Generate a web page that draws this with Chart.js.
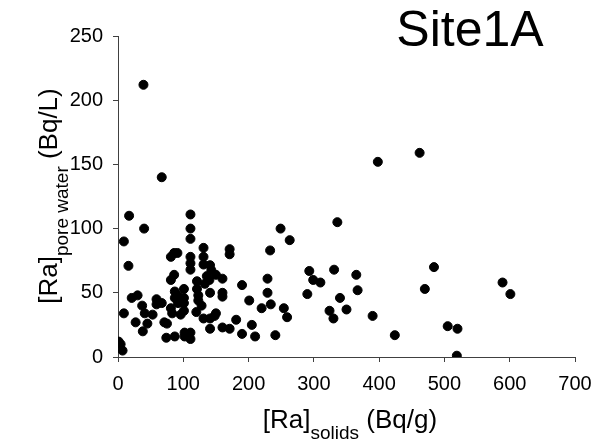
<!DOCTYPE html>
<html>
<head>
<meta charset="utf-8">
<script src="https://cdn.jsdelivr.net/npm/chart.js@4/dist/chart.umd.min.js"></script>
<style>
  html, body { margin: 0; padding: 0; background: #fff; }
  #wrap { width: 604px; height: 442px; }
</style>
</head>
<body>
<div id="wrap"><canvas id="chart" width="604" height="442"></canvas></div>
<script>
// Ra in solids (Bq/g) vs Ra in pore water (Bq/L), Site1A
const solids = [
    39, 67, 17, 40, 9, 16,
    111, 111, 111, 111, 111, 111,
    131, 131, 131, 141, 143, 171, 171,
    81, 86, 91, 81, 86, 136, 140, 150, 160,
    121, 121, 133, 190, 229, 233, 249, 263,
    293, 299, 310, 331, 336, 398, 462, 484, 470,
    365, 367, 290, 340, 350, 324, 330, 390, 424,
    505, 520, 519, 589, 601,
    229, 234, 254, 259, 241, 220, 201, 205, 210, 190, 181,
    171, 160, 160, 160, 150, 148, 141, 141, 141, 131,
    128, 123, 123, 120, 111, 111, 102, 102,
    101, 101, 101, 101, 96, 87, 87, 92, 87, 74,
    81, 83, 75, 71, 67, 59, 59, 53, 45, 41, 37, 38,
    30, 21, 27, 9, 1, 4, 7, 95, 91
];
const poreWater = [
    212, 140, 110, 100, 90, 71,
    111, 100, 92, 78, 73, 68,
    85, 78, 72, 71.5, 67.6, 84, 80,
    78, 81, 81, 60, 64, 63, 60, 64, 61,
    59, 53, 57, 56, 61, 83, 100, 91,
    67, 60, 58, 68, 105, 152, 159, 70, 53,
    64, 52, 49, 46, 37, 36, 30, 32, 17,
    24, 22, 1, 58, 49,
    50, 41, 38, 31, 17, 38, 44, 25, 16, 18, 29,
    22, 23, 50, 47, 34, 32, 30, 22, 50, 30,
    40, 48, 44, 35, 19, 14, 19, 16,
    53, 46, 42, 36, 33, 51, 46, 42, 16, 15,
    38, 34, 26, 27, 42, 45, 41, 33, 26, 34, 40, 20,
    48, 46, 27, 34, 12, 10, 5, 46, 48
];
const xTicks = [0, 100, 200, 300, 400, 500, 600, 700];
const yTicks = [0, 50, 100, 150, 200, 250];

const chartTitle = 'Site1A';
const xTitle = [['[Ra]', false], ['solids', true], [' (Bq/g)', false]];
const yTitle = [['[Ra]', false], ['pore water', true], [' (Bq/L)', false]];

const FONT = '"Liberation Sans", Arial, sans-serif';

const points = solids.map((x, i) => ({ x: x, y: poreWater[i] }));

function drawSubText(ctx, parts, cx, baseline) {
    const widths = parts.map(p => {
        ctx.font = (p[1] ? '19px ' : '26px ') + FONT;
        return ctx.measureText(p[0]).width;
    });
    const total = widths.reduce((a, b) => a + b, 0);
    let x = cx - total / 2;
    ctx.textAlign = 'left';
    ctx.textBaseline = 'alphabetic';
    parts.forEach((p, i) => {
        ctx.font = (p[1] ? '19px ' : '26px ') + FONT;
        ctx.fillText(p[0], x, baseline + (p[1] ? 11 : 0));
        x += widths[i];
    });
}

const textPlugin = {
    id: 'textPlugin',
    afterDraw(chart) {
        const ctx = chart.ctx;
        ctx.save();
        ctx.fillStyle = '#000';
        ctx.font = '50px ' + FONT;
        ctx.textAlign = 'center';
        ctx.textBaseline = 'alphabetic';
        ctx.fillText(chartTitle, 470, 46);

        drawSubText(ctx, xTitle, 350, 428);

        ctx.translate(57, 196);
        ctx.rotate(-Math.PI / 2);
        drawSubText(ctx, yTitle, 0, 0);
        ctx.restore();
    }
};

const ctx = document.getElementById('chart').getContext('2d');
new Chart(ctx, {
    type: 'scatter',
    data: {
        datasets: [{
            data: points,
            backgroundColor: '#000',
            borderColor: '#000',
            pointRadius: 4.5,
            pointHoverRadius: 4.5
        }]
    },
    options: {
        responsive: false,
        animation: false,
        layout: { padding: { top: 36, right: 29, left: 0, bottom: 0 } },
        plugins: {
            legend: { display: false },
            tooltip: { enabled: false }
        },
        scales: {
            x: {
                type: 'linear',
                min: 0,
                max: 700,
                afterFit(scale) { scale.height = 85; },
                afterBuildTicks(scale) { scale.ticks = xTicks.map(v => ({ value: v })); },
                ticks: {
                    color: '#000',
                    padding: 10,
                    font: { family: FONT, size: 20 }
                },
                grid: { drawOnChartArea: false, tickLength: 5, color: '#404040' },
                border: { color: '#404040', width: 1 }
            },
            y: {
                type: 'linear',
                min: 0,
                max: 250,
                afterFit(scale) { scale.width = 118; },
                afterBuildTicks(scale) { scale.ticks = yTicks.map(v => ({ value: v })); },
                ticks: {
                    color: '#000',
                    padding: 10,
                    font: { family: FONT, size: 20 }
                },
                grid: { drawOnChartArea: false, tickLength: 5, color: '#404040' },
                border: { color: '#404040', width: 1 }
            }
        }
    },
    plugins: [textPlugin]
});
</script>
</body>
</html>
